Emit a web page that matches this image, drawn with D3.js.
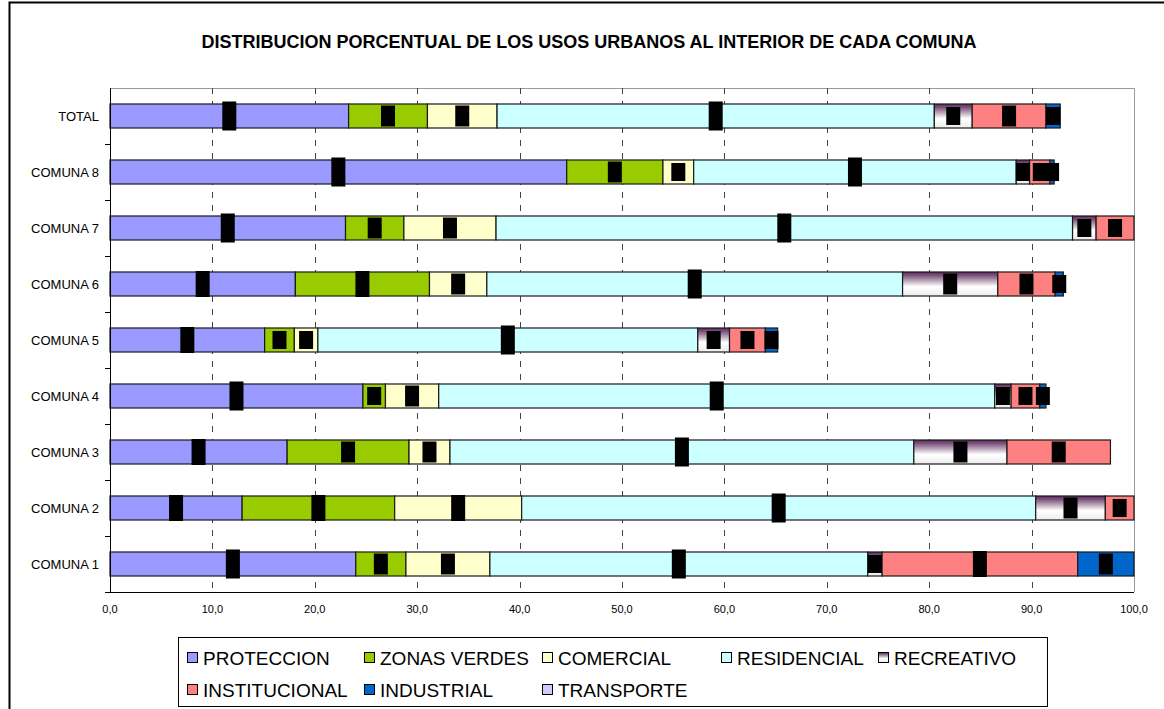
<!DOCTYPE html>
<html>
<head>
<meta charset="utf-8">
<script src="https://cdn.jsdelivr.net/npm/d3@7"></script>
<style>
  body { margin: 0; background: #fff; }
  svg { display: block; font-family: "Liberation Sans", Arial, sans-serif; }
</style>
</head>
<body>
<div id="chart"></div>
<script>
// categorias (de arriba hacia abajo)
const categories = ["TOTAL", "COMUNA 8", "COMUNA 7", "COMUNA 6", "COMUNA 5",
  "COMUNA 4", "COMUNA 3", "COMUNA 2", "COMUNA 1"];

const seriesNames = ["PROTECCION", "ZONAS VERDES", "COMERCIAL", "RESIDENCIAL",
  "RECREATIVO", "INSTITUCIONAL", "INDUSTRIAL", "TRANSPORTE"];

// porcentajes, mismo orden que categories
const proteccion    = [23.3, 44.6, 23.0, 18.1, 15.1, 24.7, 17.3, 12.9, 24.0];
const zonasVerdes   = [7.7, 9.4, 5.7, 13.1, 2.9, 2.2, 11.9, 14.9, 4.9];
const comercial     = [6.8, 3.0, 9.0, 5.6, 2.3, 5.2, 4.0, 12.4, 8.2];
const residencial   = [42.7, 31.5, 56.3, 40.6, 37.1, 54.3, 45.3, 50.2, 36.9];
const recreativo    = [3.7, 1.3, 2.3, 9.3, 3.1, 1.6, 9.1, 6.8, 1.4];
const institucional = [7.2, 2.0, 3.7, 5.6, 3.5, 2.8, 10.1, 2.8, 19.1];
const industrial    = [1.4, 0.4, 0, 0.8, 1.2, 0.6, 0, 0, 5.5];
const transporte    = [0, 0, 0, 0, 0, 0, 0, 0, 0];

const xTicks = [0, 10, 20, 30, 40, 50, 60, 70, 80, 90, 100];

const seriesValues = [proteccion, zonasVerdes, comercial, residencial,
  recreativo, institucional, industrial, transporte];
const colors = ["#9999ff", "#99cc00", "#ffffcc", "#ccffff",
  "url(#recGrad)", "#ff8080", "#0066cc", "#ccccff"];

const width = 1164, height = 709;
const margin = { left: 110, top: 88 };
const innerWidth = 1024, innerHeight = 504;

// alinea un texto (centro o derecha) midiendo su ancho, con anchor "start"
function place(sel, align) {
  sel.each(function () {
    const t = d3.select(this);
    const w = this.getComputedTextLength();
    const x = +t.attr("x");
    t.attr("x", align === "end" ? x - w : x - w / 2);
  });
}

const svg = d3.select("#chart").append("svg")
  .attr("width", width)
  .attr("height", height);

// gradiente del uso recreativo
const grad = svg.append("defs").append("linearGradient")
  .attr("id", "recGrad")
  .attr("x1", 0).attr("y1", 0).attr("x2", 0).attr("y2", 1);
grad.append("stop").attr("offset", 0).attr("stop-color", "#5c2a5c");
grad.append("stop").attr("offset", 0.15).attr("stop-color", "#7d557d");
grad.append("stop").attr("offset", 0.6).attr("stop-color", "#ffffff");
grad.append("stop").attr("offset", 1).attr("stop-color", "#ececec");

// fondo
svg.append("rect")
  .attr("width", width).attr("height", height)
  .attr("fill", "#fff");

// marco exterior (solo se ven los bordes izquierdo y superior)
svg.append("path")
  .attr("d", `M9.5,${height}V2.5H${width}`)
  .attr("fill", "none")
  .attr("stroke", "#000")
  .attr("stroke-width", 2);

// titulo
svg.append("text")
  .attr("x", 589).attr("y", 48)
  .style("font-weight", "bold")
  .style("font-size", "18px")
  .text("DISTRIBUCION PORCENTUAL DE LOS USOS URBANOS AL INTERIOR DE CADA COMUNA")
  .call(place, "middle");

const g = svg.append("g")
  .attr("transform", `translate(${margin.left},${margin.top})`);

// scales
const xScale = d3.scaleLinear().domain([0, 100]).range([0, innerWidth]);
const yScale = d3.scaleBand().domain(categories).range([0, innerHeight]);
const barH = 24;

// borde gris del area de trazado
g.append("path")
  .attr("d", `M0,0.5H${innerWidth + 0.5}V${innerHeight}`)
  .attr("fill", "none")
  .attr("stroke", "#9a9a9a");

// grid
g.selectAll(".grid")
  .data(xTicks.slice(1, -1))
  .join("line")
  .attr("x1", d => Math.round(xScale(d)) + 0.5)
  .attr("x2", d => Math.round(xScale(d)) + 0.5)
  .attr("y1", 0)
  .attr("y2", innerHeight)
  .attr("stroke", "#444")
  .attr("stroke-dasharray", "6,7");

// stack
const rows = categories.map((c, i) => {
  let x0 = 0;
  return seriesValues.map((vals, s) => {
    const seg = { cat: c, s, v: vals[i], x0, x1: x0 + vals[i] };
    x0 += vals[i];
    return seg;
  });
});
const segs = rows.flat().filter(d => d.v > 0);

g.selectAll(".seg")
  .data(segs)
  .join("rect")
  .attr("x", d => xScale(d.x0))
  .attr("y", d => yScale(d.cat) + (yScale.bandwidth() - barH) / 2)
  .attr("width", d => xScale(d.x1) - xScale(d.x0))
  .attr("height", barH)
  .attr("fill", d => colors[d.s])
  .attr("stroke", "#1a1a1a")
  .attr("stroke-width", 1.2);

// etiquetas de datos tapadas (bloques negros)
const boxH = v => v >= 20 ? 29 : v >= 12 ? 26 : v >= 4 ? 21 : 18;
g.selectAll(".lbl")
  .data(segs)
  .join("rect")
  .attr("x", d => xScale((d.x0 + d.x1) / 2) - 7)
  .attr("y", d => yScale(d.cat) + yScale.bandwidth() / 2 - boxH(d.v) / 2)
  .attr("width", 14)
  .attr("height", d => boxH(d.v))
  .attr("fill", "#000");

// eje y
const yAxis = g.append("g");
yAxis.append("line")
  .attr("x1", 0.5).attr("x2", 0.5)
  .attr("y1", 0).attr("y2", innerHeight)
  .attr("stroke", "#000");
yAxis.selectAll(".yt")
  .data(categories)
  .join("line")
  .attr("x1", -5).attr("x2", 0)
  .attr("y1", d => yScale(d) + yScale.bandwidth() + 0.5)
  .attr("y2", d => yScale(d) + yScale.bandwidth() + 0.5)
  .attr("stroke", "#000");
yAxis.selectAll(".ylab")
  .data(categories)
  .join("text")
  .attr("x", -11)
  .attr("y", d => yScale(d) + yScale.bandwidth() / 2 + 4.5)
  .style("font-size", "13px")
  .text(d => d)
  .call(place, "end");

// eje x
const xAxis = g.append("g")
  .attr("transform", `translate(0,${innerHeight})`);
xAxis.append("line")
  .attr("x1", 0).attr("x2", innerWidth)
  .attr("y1", 0.5).attr("y2", 0.5)
  .attr("stroke", "#000");
xAxis.selectAll(".xlab")
  .data(xTicks)
  .join("text")
  .attr("x", d => xScale(d))
  .attr("y", 21)
  .style("font-size", "11px")
  .text(d => d3.format(".1f")(d).replace(".", ","))
  .call(place, "middle");

// leyenda
const legend = svg.append("g");
legend.append("rect")
  .attr("x", 178.5).attr("y", 637.5)
  .attr("width", 869).attr("height", 69)
  .attr("fill", "#fff")
  .attr("stroke", "#000");
const colX = [187, 364, 542, 721, 878];
const legItems = legend.selectAll(".li")
  .data(seriesNames)
  .join("g")
  .attr("transform", (d, i) => `translate(${colX[i % 5]},${i < 5 ? 658 : 690})`);
legItems.append("rect")
  .attr("x", 0.5).attr("y", -5.5)
  .attr("width", 10).attr("height", 10)
  .attr("fill", (d, i) => colors[i])
  .attr("stroke", "#000");
legItems.append("text")
  .attr("x", 16)
  .attr("y", 6.5)
  .style("font-size", "19px")
  .text(d => d);
</script>
</body>
</html>
